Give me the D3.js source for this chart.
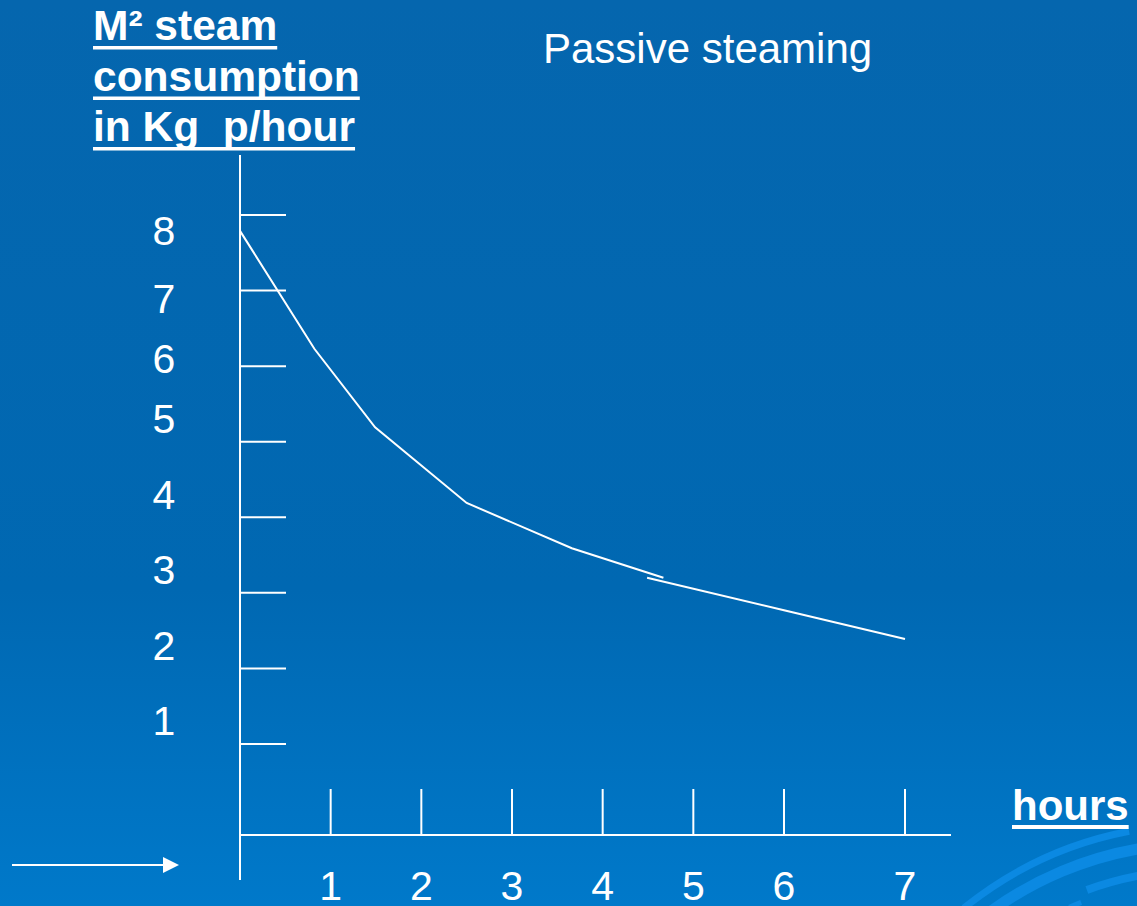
<!DOCTYPE html>
<html>
<head>
<meta charset="utf-8">
<script src="https://cdnjs.cloudflare.com/ajax/libs/d3/7.8.5/d3.min.js"></script>
<style>
  html, body { margin: 0; padding: 0; background: #0468b0; }
  svg { display: block; font-family: "Liberation Sans", Arial, sans-serif; }
</style>
</head>
<body>
<script>
    // chart values
    var hourTicks = [1, 2, 3, 4, 5, 6, 7];
    var valueTicks = [1, 2, 3, 4, 5, 6, 7, 8];
    // the curve was drawn in two pieces in the original
    var hoursA = [0, 0.82, 1.49, 2.5, 3.66, 4.67];
    var valuesA = [7.79, 6.23, 5.19, 4.19, 3.59, 3.2];
    var hoursB = [4.49, 6, 7];
    var valuesB = [3.2, 2.77, 2.39];
    var titleLines = ['M\u00b2 steam', 'consumption', 'in Kg\u00a0 p/hour'];

    var W = 1137, H = 906;
    var svg = d3.select('body').append('svg').attr('width', W).attr('height', H);

    // background gradient
    var grad = svg.append('defs').append('linearGradient')
        .attr('id', 'bg').attr('x1', 0).attr('y1', 0).attr('x2', 0).attr('y2', 1);
    grad.append('stop').attr('offset', '0%').attr('stop-color', '#0566ae');
    grad.append('stop').attr('offset', '65%').attr('stop-color', '#0068b2');
    grad.append('stop').attr('offset', '100%').attr('stop-color', '#0079ca');
    svg.append('rect').attr('width', W).attr('height', H).attr('fill', 'url(#bg)');

    // decorative swirl, bottom right
    var swirl = svg.append('g').attr('transform', 'translate(1200,1200)').attr('fill', '#0b89e2');
    [[372, 379, -0.68, -0.19], [351, 362, -0.63, 0.3], [326, 334, -0.35, 0.3], [318, 323, -0.42, -0.38]]
        .forEach(function(a) {
            swirl.append('path').attr('d', d3.arc()({
                innerRadius: a[0], outerRadius: a[1], startAngle: a[2], endAngle: a[3]
            }));
        });

    var x = d3.scaleLinear().domain([0, 6, 7]).range([240, 784, 905]);
    var y = d3.scaleLinear().domain([1, 8]).range([744, 215]);
    // labels are not centred on their ticks in the original
    var yLabel = d3.scaleLinear().domain([1, 5, 7, 8]).range([735, 433, 313, 245]);
    var axisY = 835;

    // axes
    svg.append('line').attr('x1', 240).attr('x2', 240).attr('y1', 155).attr('y2', 880)
        .attr('stroke', 'white').attr('stroke-width', 2);
    svg.append('line').attr('x1', 240).attr('x2', 951).attr('y1', axisY).attr('y2', axisY)
        .attr('stroke', 'white').attr('stroke-width', 2);

    svg.selectAll('line.ytick').data(valueTicks).enter().append('line')
        .attr('class', 'ytick')
        .attr('x1', 240).attr('x2', 286)
        .attr('y1', function(d) { return y(d); })
        .attr('y2', function(d) { return y(d); })
        .attr('stroke', 'white').attr('stroke-width', 2);

    svg.selectAll('text.ylab').data(valueTicks).enter().append('text')
        .attr('class', 'ylab')
        .attr('x', 164).attr('y', function(d) { return yLabel(d); })
        .attr('text-anchor', 'middle').attr('fill', 'white').attr('font-size', 41)
        .text(function(d) { return d; });

    svg.selectAll('line.xtick').data(hourTicks).enter().append('line')
        .attr('class', 'xtick')
        .attr('x1', function(d) { return x(d); })
        .attr('x2', function(d) { return x(d); })
        .attr('y1', 789).attr('y2', axisY)
        .attr('stroke', 'white').attr('stroke-width', 2);

    svg.selectAll('text.xlab').data(hourTicks).enter().append('text')
        .attr('class', 'xlab')
        .attr('x', function(d) { return x(d); }).attr('y', 900)
        .attr('text-anchor', 'middle').attr('fill', 'white').attr('font-size', 41)
        .text(function(d) { return d; });

    // curve
    var line = d3.line()
        .x(function(d) { return x(d[0]); })
        .y(function(d) { return y(d[1]); });
    [d3.zip(hoursA, valuesA), d3.zip(hoursB, valuesB)].forEach(function(seg) {
        svg.append('path').attr('d', line(seg))
            .attr('fill', 'none').attr('stroke', 'white').attr('stroke-width', 2);
    });

    // y title, bold and underlined
    titleLines.forEach(function(t, i) {
        var base = 40 + i * 50.5;
        var txt = svg.append('text').attr('x', 93).attr('y', base)
            .attr('fill', 'white').attr('font-size', 42.5).attr('font-weight', 'bold')
            .text(t);
        var len = txt.node().getComputedTextLength();
        svg.append('rect').attr('x', 93).attr('y', base + 6).attr('width', len).attr('height', 3.5)
            .attr('fill', 'white');
    });

    // x title
    var hrs = svg.append('text').attr('x', 1012).attr('y', 820)
        .attr('fill', 'white').attr('font-size', 42).attr('font-weight', 'bold')
        .text('hours');
    svg.append('rect').attr('x', 1012).attr('y', 825)
        .attr('width', hrs.node().getComputedTextLength()).attr('height', 4).attr('fill', 'white');

    // chart title
    svg.append('text').attr('x', 543).attr('y', 63)
        .attr('fill', 'white').attr('font-size', 42)
        .text('Passive steaming');

    // arrow bottom left
    svg.append('line').attr('x1', 12).attr('x2', 165).attr('y1', 865).attr('y2', 865)
        .attr('stroke', 'white').attr('stroke-width', 2);
    svg.append('path').attr('d', d3.line()([[163, 857], [179, 865], [163, 873]]) + 'Z')
        .attr('fill', 'white');
</script>
</body>
</html>
